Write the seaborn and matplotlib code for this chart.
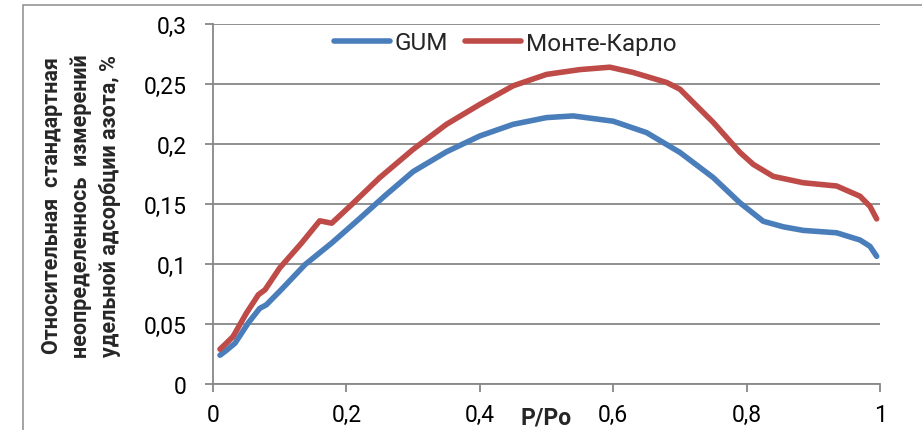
import matplotlib
matplotlib.use("Agg")
import matplotlib.pyplot as plt
from matplotlib.patches import Rectangle
import seaborn as sns
import pandas as pd

# ---- data ----
gum_x = [0.0105, 0.02, 0.033, 0.053, 0.07, 0.08, 0.103, 0.138, 0.178, 0.218,
         0.258, 0.3, 0.35, 0.4, 0.45, 0.5, 0.54, 0.6, 0.65, 0.7, 0.75, 0.79,
         0.825, 0.855, 0.885, 0.935, 0.97, 0.985, 0.995]
gum_y = [0.024, 0.028, 0.034, 0.051, 0.063, 0.066, 0.079, 0.0995, 0.1175, 0.137,
         0.157, 0.177, 0.1935, 0.2067, 0.2164, 0.222, 0.2234, 0.219, 0.2095, 0.193,
         0.172, 0.151, 0.1356, 0.131, 0.128, 0.126, 0.120, 0.1147, 0.1064]

mc_x = [0.0105, 0.02, 0.03, 0.05, 0.068, 0.078, 0.1, 0.133, 0.16, 0.178, 0.208,
        0.25, 0.3, 0.35, 0.4, 0.45, 0.5, 0.55, 0.595, 0.63, 0.68, 0.7, 0.75,
        0.79, 0.81, 0.84, 0.885, 0.935, 0.97, 0.985, 0.995]
mc_y = [0.029, 0.034, 0.0395, 0.059, 0.0744, 0.0785, 0.0967, 0.1176, 0.136, 0.134,
        0.1496, 0.172, 0.1955, 0.2164, 0.233, 0.2485, 0.258, 0.262, 0.264, 0.2596,
        0.2513, 0.2457, 0.218, 0.193, 0.183, 0.173, 0.1677, 0.165, 0.1565, 0.148,
        0.1376]

series_names = ["GUM", "Монте-Карло"]
x_ticks = [0, 0.2, 0.4, 0.6, 0.8, 1.0]
x_tick_labels = ["0", "0,2", "0,4", "0,6", "0,8", "1"]
y_ticks = [0, 0.05, 0.1, 0.15, 0.2, 0.25, 0.3]
y_tick_labels = ["0", "0,05", "0,1", "0,15", "0,2", "0,25", "0,3"]
x_label = "P/Po"
y_label = "Относительная  стандартная\nнеопределеннось  измерений\nудельной адсорбции азота, %"

df = pd.concat([
    pd.DataFrame({"P": gum_x, "u": gum_y, "series": series_names[0]}),
    pd.DataFrame({"P": mc_x, "u": mc_y, "series": series_names[1]}),
], ignore_index=True)

# ---- style ----
sns.set_theme(style="white")
plt.rcParams["font.family"] = ["Roboto", "DejaVu Sans"]

GRAY = "#878787"
palette = {series_names[0]: "#4A7EBB", series_names[1]: "#BE4B48"}

fig = plt.figure(figsize=(9.22, 4.31), dpi=100, facecolor="white")
ax = fig.add_axes([213 / 922, 46 / 431, 667 / 922, 360 / 431])

# outer chart frame
fig.patches.append(Rectangle((22.5 / 922, -0.2), 1.2, (431 - 5.5) / 431 + 0.2,
                             transform=fig.transFigure, fill=False,
                             edgecolor="#8c8c8c", linewidth=1.1, zorder=0))

sns.lineplot(data=df, x="P", y="u", hue="series", palette=palette,
             estimator=None, sort=False, linewidth=4.0, ax=ax, legend=True)
for ln in ax.lines:
    ln.set_solid_capstyle("round")
    ln.set_solid_joinstyle("round")
    ln.set_clip_on(False)

ax.set_xlim(0, 1)
ax.set_ylim(0, 0.3)
ax.set_xticks(x_ticks)
ax.set_xticklabels(x_tick_labels)
ax.set_yticks(y_ticks)
ax.set_yticklabels(y_tick_labels)
ax.set_xlabel("")
ax.set_ylabel("")

ax.yaxis.grid(True, color=GRAY, linewidth=1.3)
ax.xaxis.grid(False)
ax.set_axisbelow(True)
for s in ["top", "right"]:
    ax.spines[s].set_visible(False)
for s in ["left", "bottom"]:
    ax.spines[s].set_color(GRAY)
    ax.spines[s].set_linewidth(1.3)

ax.tick_params(axis="both", direction="out", length=6, width=1.3, color=GRAY,
               labelsize=16.5, labelcolor="black")
ax.tick_params(axis="y", pad=13)
ax.tick_params(axis="x", pad=8)
ax.yaxis.set_ticks_position("left")
ax.xaxis.set_ticks_position("bottom")

handles, labels = ax.get_legend_handles_labels()
leg = ax.legend(handles, labels, loc="center",
                bbox_to_anchor=(505 / 922, (431 - 44) / 431),
                bbox_transform=fig.transFigure, ncol=2, frameon=False, fontsize=17.5,
                handlelength=2.3, handletextpad=0.2, columnspacing=0.7, borderpad=0)
for h in leg.get_lines():
    h.set_linewidth(4.0)
    h.set_solid_capstyle("round")

fig.text(546 / 922, (431 - 418) / 431, x_label, ha="center", va="center",
         fontsize=16.5, fontweight="bold")
fig.text(81 / 922, (431 - 206) / 431, y_label, rotation=90, ha="center",
         va="center", multialignment="center", fontsize=15.5, fontweight="bold",
         linespacing=1.42)

fig.savefig("out.png", dpi=100, facecolor="white")
